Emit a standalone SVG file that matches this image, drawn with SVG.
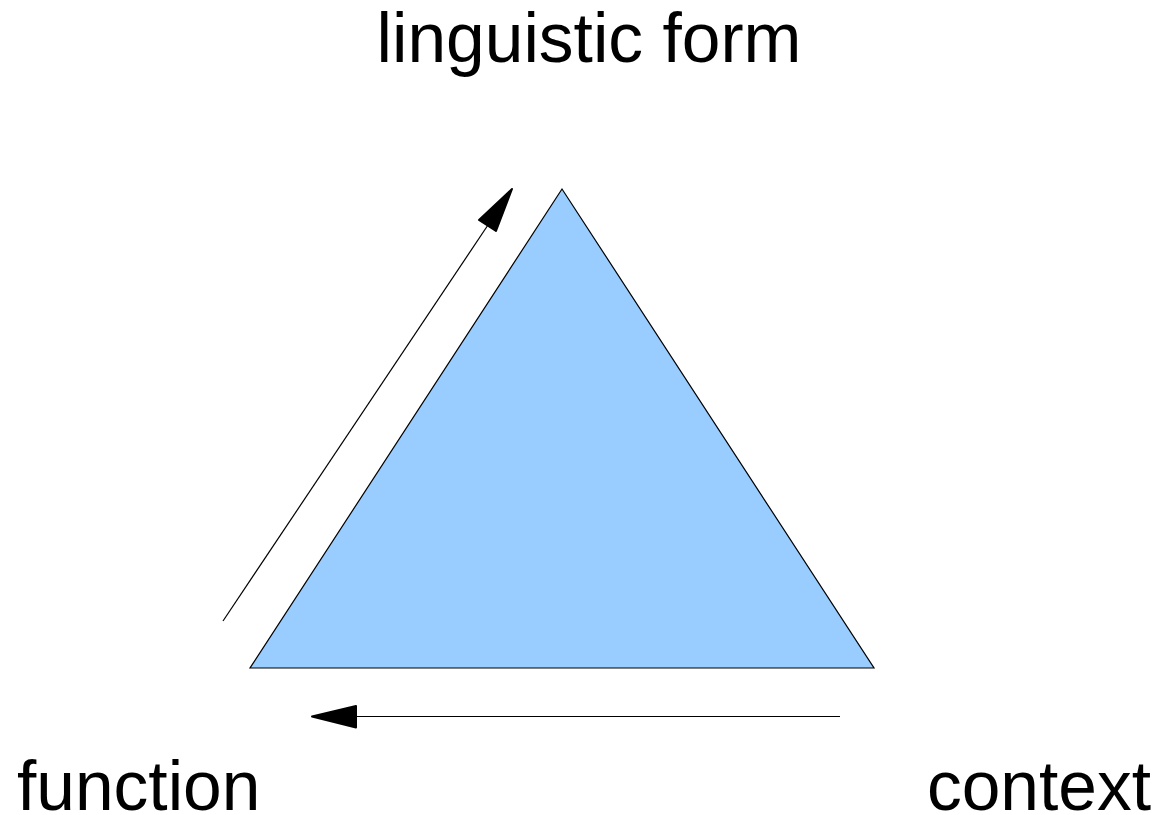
<svg xmlns="http://www.w3.org/2000/svg" width="1160" height="815" viewBox="0 0 1160 815">
<style>
.lbl{font-family:"Liberation Sans",Arial,sans-serif;font-size:69.5px;fill:#000}
.conn{stroke:#000;stroke-width:1.2;fill:none}
.head{fill:#000;stroke:#000;stroke-width:2;stroke-linejoin:round}
</style>
<rect width="1160" height="815" fill="#fff"/>
<g id="triangle">
<polygon points="562,189 250,668 874,668" fill="#99ccff" stroke="#000" stroke-width="1.2" stroke-linejoin="miter"/>
</g>
<g id="connectors">
<line class="conn" x1="223" y1="621" x2="490" y2="222"/>
<polygon class="head" points="512,189 496,231 479,220"/>
<line class="conn" x1="840" y1="716.5" x2="350" y2="716.5"/>
<polygon class="head" points="312,716.5 356,706 356,727.5"/>
</g>
<g id="node-form"><text class="lbl" x="589" y="62" text-anchor="middle">linguistic form</text></g>
<g id="node-function"><text class="lbl" x="17" y="809.5">function</text></g>
<g id="node-context"><text class="lbl" x="1151" y="809.5" text-anchor="end">context</text></g>
</svg>
